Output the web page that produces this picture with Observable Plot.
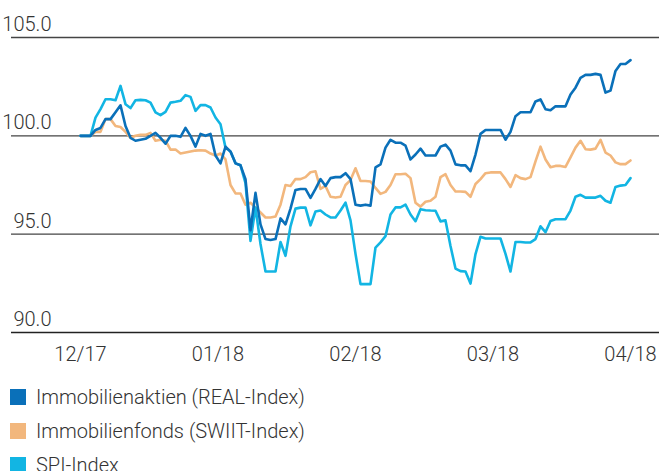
<!DOCTYPE html>
<html>
<head>
<meta charset="utf-8">
<script src="https://cdn.jsdelivr.net/npm/d3@7"></script>
<script src="https://cdn.jsdelivr.net/npm/@observablehq/plot@0.6"></script>
<style>
  html, body { margin: 0; padding: 0; background: #fff; }
  body { width: 659px; height: 471px; overflow: hidden; font-family: Roboto, "Liberation Sans", sans-serif; font-weight: 300; color: #333; }
  #legend { margin-top: 4px; }
  .item { display: flex; align-items: center; height: 34px; font-size: 20px; }
  .sw { width: 16px; height: 16px; margin-left: 10px; margin-right: 10px; }
</style>
</head>
<body>
<div id="chart"></div>
<div id="legend"></div>
<script>
const tickLabels = ["12/17", "01/18", "02/18", "03/18", "04/18"];
const seriesNames = ["Immobilienaktien (REAL-Index)", "Immobilienfonds (SWIIT-Index)", "SPI-Index"];
const colors = ["#0a70b9", "#f2b77d", "#12b5e3"];
const yTicks = [90, 95, 100, 105];

const real = [
  100.0,100.0,100.0,100.3,100.4,100.85,100.85,101.2,101.55,100.5,
  99.9,99.75,99.8,99.85,100.0,100.15,99.9,99.6,100.0,100.0,
  99.95,100.4,100.0,99.45,100.1,100.0,100.1,99.0,98.6,99.45,
  99.2,98.6,98.5,97.8,95.2,97.1,95.5,94.75,94.7,94.75,
  95.8,95.5,96.3,97.25,97.3,97.3,96.85,97.3,97.8,97.45,
  97.85,97.9,97.9,98.1,97.8,96.5,96.45,96.5,96.45,98.4,
  98.55,99.4,99.8,99.65,99.65,99.5,98.8,99.05,99.35,99.0,
  99.0,99.0,99.45,99.55,99.25,98.55,98.5,98.5,98.2,99.05,
  100.1,100.3,100.3,100.3,100.3,99.8,100.2,101.0,101.2,101.2,
  101.2,101.75,101.85,101.35,101.3,101.5,101.5,101.5,102.1,102.45,
  102.95,103.1,103.1,103.15,103.1,102.2,102.3,103.3,103.65,103.65,
  103.85
];
const swiit = [
  100.0,100.0,100.0,100.2,100.2,100.85,100.85,100.5,100.45,100.2,
  99.9,100.0,100.05,100.05,100.15,99.75,99.8,99.75,99.3,99.3,
  99.1,99.15,99.2,99.25,99.27,99.25,99.1,99.0,99.1,98.8,
  97.5,97.07,97.07,96.5,96.6,96.35,96.1,95.85,95.85,95.9,
  96.5,97.5,97.45,97.8,97.8,97.9,98.15,98.2,97.3,97.45,
  96.9,96.86,96.9,97.5,97.75,98.35,97.7,97.7,97.68,97.35,
  97.05,97.15,97.5,98.05,98.05,98.07,97.85,96.6,96.4,96.65,
  96.7,96.9,97.9,98.05,97.5,97.17,97.17,97.15,96.9,97.55,
  97.8,98.1,98.14,98.14,98.14,97.8,97.4,98.0,97.85,97.8,
  97.9,98.7,99.45,98.8,98.4,98.47,98.47,98.42,98.9,99.4,
  99.75,99.32,99.3,99.35,99.8,99.15,99.0,98.65,98.56,98.56,
  98.75
];
const spi = [
  100.0,100.0,100.0,100.93,101.36,101.86,101.86,101.81,102.54,101.61,
  101.41,101.81,101.83,101.81,101.69,101.19,101.05,101.22,101.69,101.73,
  101.78,102.07,101.98,101.27,101.56,101.56,101.44,100.93,100.59,99.4,
  99.2,98.6,98.5,97.6,94.66,96.35,94.5,93.1,93.1,93.1,
  94.6,93.9,95.4,96.3,96.35,96.35,95.45,96.15,96.2,96.0,
  95.85,95.85,96.2,96.6,95.7,94.0,92.46,92.46,92.46,94.32,
  94.58,94.9,96.0,96.36,96.36,96.5,96.0,95.66,96.27,96.22,
  96.2,96.19,95.65,95.7,94.4,93.25,93.12,93.1,92.49,93.99,
  94.87,94.78,94.78,94.78,94.78,94.0,93.1,94.6,94.6,94.58,
  94.58,94.75,95.4,95.1,95.67,95.76,95.76,95.76,96.2,96.9,
  97.0,96.86,96.86,96.86,96.95,96.7,96.6,97.4,97.47,97.5,
  97.85
];

const allSeries = [real, swiit, spi];
const n = real.length;
// x in months since 12/17, one sample per equal step
const rows = [];
allSeries.forEach((vals, s) => vals.forEach((v, i) => rows.push({series: seriesNames[s], t: i * (tickLabels.length - 1) / (n - 1), v})));

const drawOrder = [1, 2, 0];

const chart = Plot.plot({
  width: 659,
  height: 376,
  marginLeft: 80,
  marginRight: 29,
  marginTop: 37,
  marginBottom: 44,
  style: { fontFamily: "Roboto, 'Liberation Sans', sans-serif", fontSize: "20px", fontWeight: 300, color: "#333", background: "#fff" },
  x: { domain: [0, tickLabels.length - 1], label: null },
  y: { domain: [90, 105], label: null },
  color: { domain: seriesNames, range: colors },
  marks: [
    Plot.ruleY(yTicks, { stroke: d => d === 90 ? "#222" : "#444", strokeWidth: 1.3, insetLeft: -69, insetRight: -29 }),
    ...drawOrder.map(s => Plot.line(rows.filter(r => r.series === seriesNames[s]), {
      x: "t", y: "v", stroke: colors[s], strokeWidth: 2.6, strokeLinejoin: "round", strokeLinecap: "round"
    })),
    Plot.axisY(yTicks, { tickSize: 0, tickFormat: d => d.toFixed(1), dx: -20, dy: -13, fill: "#333", label: null }),
    Plot.axisX(d3.range(tickLabels.length), { tickSize: 0, tickPadding: 14, tickFormat: i => tickLabels[i], fill: "#333", label: null })
  ]
});
document.getElementById("chart").appendChild(chart);

const legend = document.getElementById("legend");
seriesNames.forEach((name, i) => {
  const item = document.createElement("div");
  item.className = "item";
  const sw = document.createElement("div");
  sw.className = "sw";
  sw.style.background = colors[i];
  item.appendChild(sw);
  const label = document.createElement("span");
  label.textContent = name;
  item.appendChild(label);
  legend.appendChild(item);
});
</script>
</body>
</html>
